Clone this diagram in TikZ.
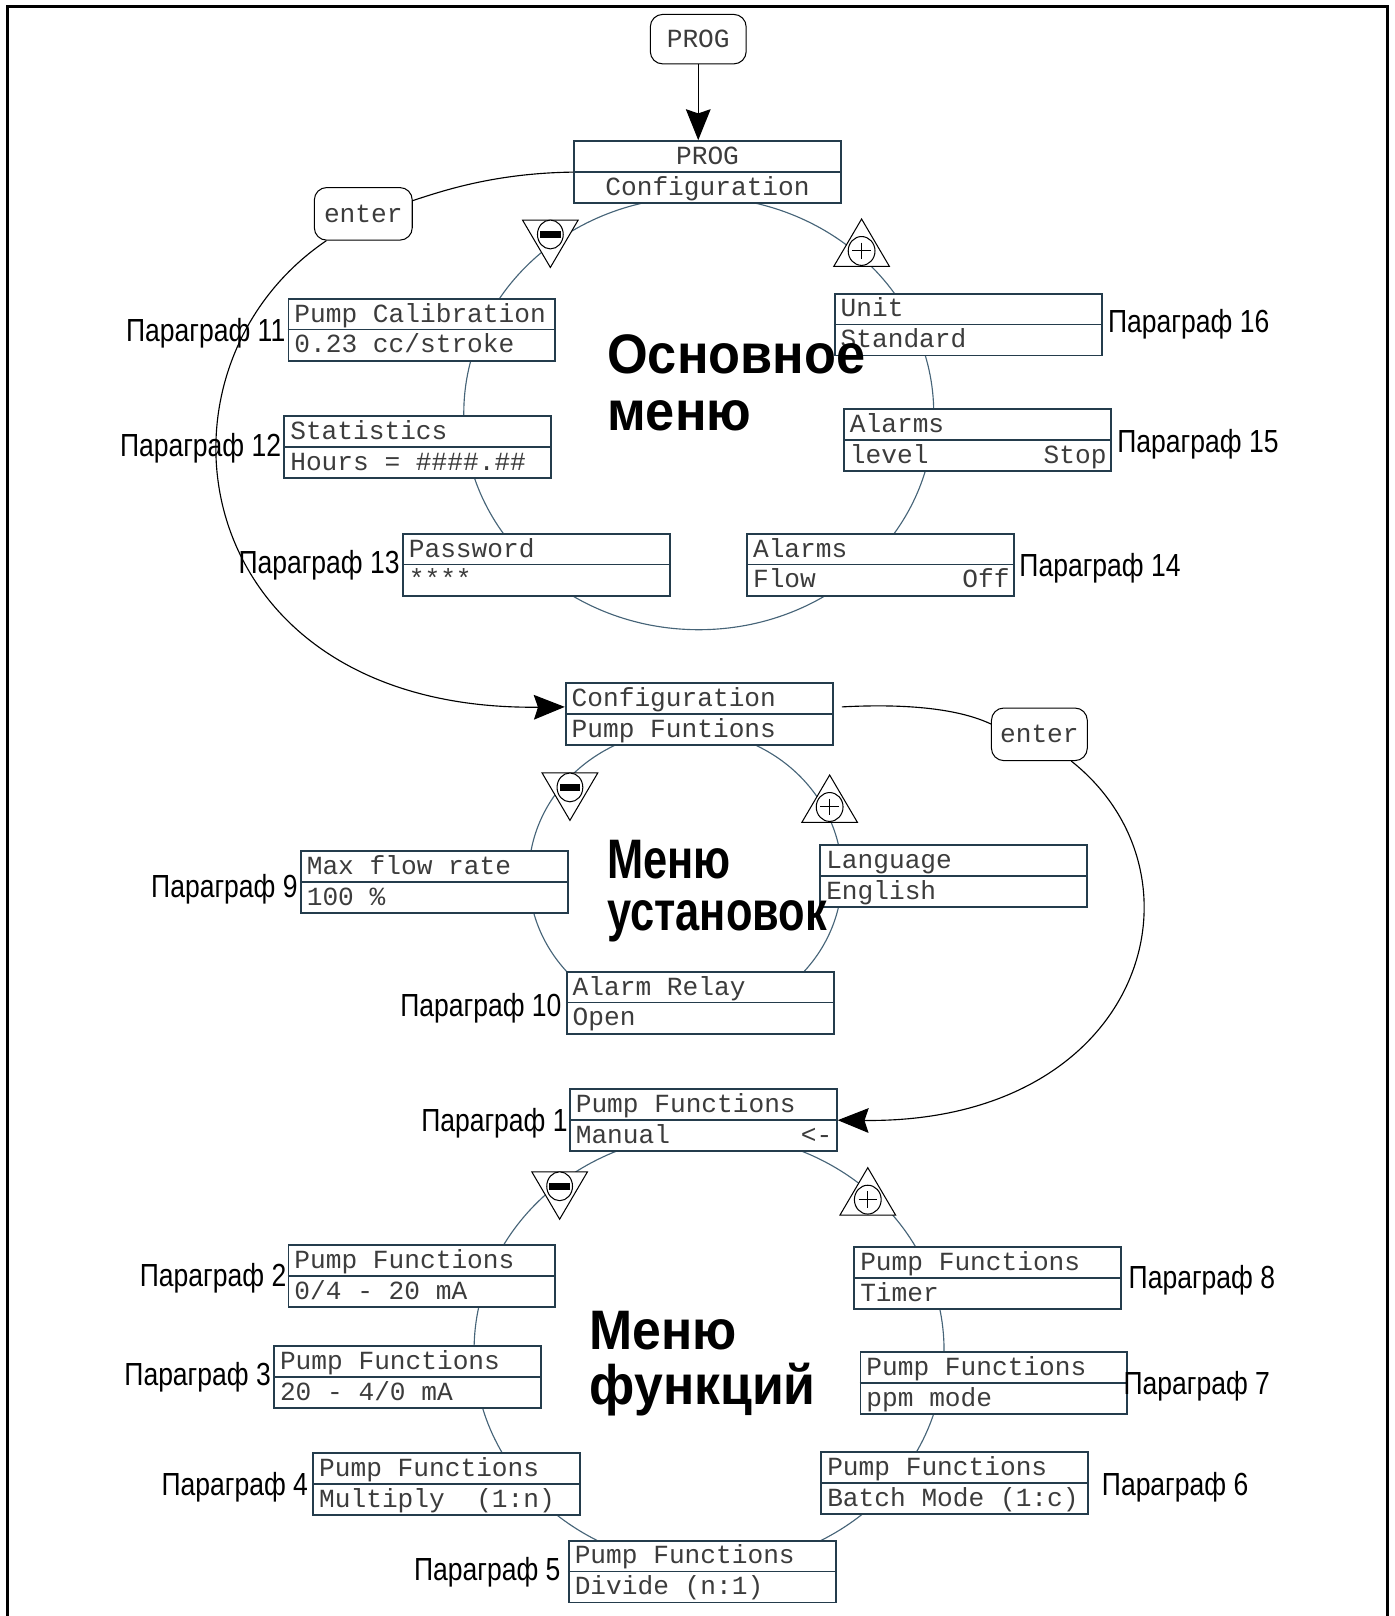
\documentclass[tikz,border=0pt]{standalone}
\usepackage{fontspec}
\usepackage{graphicx}
\setmainfont{Liberation Sans}
\setmonofont{Liberation Mono}
\newfontfamily\lblfont[FakeStretch=0.83]{Liberation Sans}
\usetikzlibrary{arrows.meta,calc}
\definecolor{boxcol}{RGB}{36,60,76}
\definecolor{loopcol}{RGB}{70,100,120}
\definecolor{txtcol}{RGB}{60,60,60}
\tikzset{
  pb/.style={draw=boxcol, line width=1.8pt, fill=white, minimum width=259pt, minimum height=60pt, inner sep=0pt, anchor=north west},
  pbdiv/.style={draw=boxcol, line width=1.5pt},
  tx/.style={inner sep=0pt, text=txtcol, font=\ttfamily\fontsize{25.4}{28}\selectfont},
  btn/.style={draw=black, line width=1pt, rounded corners=12pt, fill=white, inner sep=0pt, text=txtcol, font=\ttfamily\fontsize{25.4}{28}\selectfont},
  lbl/.style={inner sep=0pt, font=\lblfont\fontsize{31}{34}\selectfont},
  ttl/.style={inner sep=0pt, anchor=base west, font=\bfseries\fontsize{54}{60}\selectfont},
  loopline/.style={draw=loopcol, line width=1.1pt},
  conn/.style={draw=black, line width=1.1pt},
  bigarrow/.style={-{Stealth[length=30pt,width=24pt,inset=4pt]}},
  sym/.style={draw=black, line width=1pt, fill=white},
}
\newcommand\mbx[5]{%
  \node[pb] (#1) at (#2,#3) {};
  \draw[pbdiv] (#1.west) -- (#1.east);
  \node[tx, anchor=base west] (#1t) at ($(#1.north west)+(6.5,23.5)$) {#4};
  \node[tx, anchor=base west] (#1b) at ($(#1.north west)+(6.5,53.5)$) {#5};
}
\newcommand\mbxr[2]{%
  \node[tx, anchor=base east] (#1r) at ($(#1.north east)+(-5,53.5)$) {#2};
}
\newcommand\minussym[2]{%
  \draw[sym] (#1-27,#2) -- (#1+27,#2) -- (#1,#2+46) -- cycle;
  \draw[sym] (#1,#2+14) ellipse [x radius=12.5, y radius=14];
  \fill (#1-10,#2+10.5) rectangle (#1+10,#2+17.5);
}
\newcommand\plussym[2]{%
  \draw[sym] (#1,#2) -- (#1+27,#2+46) -- (#1-27,#2+46) -- cycle;
  \draw[sym] (#1,#2+31) ellipse [x radius=13, y radius=14];
  \draw[line width=1pt] (#1-9,#2+31) -- (#1+9,#2+31) (#1,#2+23) -- (#1,#2+39);
}
\begin{document}
\begin{tikzpicture}[x=1pt,y=-1pt]
\useasboundingbox (0,0) rectangle (1353,1568);
% frame
\draw[line width=2.8pt] (7,1568) -- (7,6) -- (1346,6) -- (1346,1568);

% loops
\draw[loopline] (678,401) ellipse [x radius=228, y radius=210];
\draw[loopline] (665,850) ellipse [x radius=152, y radius=142];
\draw[loopline] (688,1310) ellipse [x radius=228, y radius=210];

% +/- symbols
\minussym{534}{213.5}
\plussym{836}{212.5}
\minussym{553}{750}
\plussym{805}{752}
\minussym{543}{1137}
\plussym{842}{1133}

% buttons
\node[btn, minimum width=93pt, minimum height=48pt] (prog) at (677.5,38) {PROG};
\node[btn, minimum width=95pt, minimum height=51pt] (ent1) at (352.5,207.5) {enter};
\node[btn, minimum width=93pt, minimum height=51pt] (ent2) at (1008.5,712.5) {enter};

% top menu
\node[pb, line width=2pt] (cfg) at (556,136) {};
\draw[pbdiv] (cfg.west) -- (cfg.east);
\node[tx, anchor=base] (cfgt) at ($(cfg.north)+(0,23.5)$) {PROG};
\node[tx, anchor=base] (cfgb) at ($(cfg.north)+(0,53.5)$) {Configuration};
\mbx{cal}{279}{289}{Pump Calibration}{0.23 cc/stroke}
\mbx{stat}{275}{403}{Statistics}{Hours = \#\#\#\#.\#\#}
\mbx{pwd}{390}{517}{Password}{****}
\mbx{unit}{809}{284}{Unit}{Standard}
\mbx{alv}{818}{396}{Alarms}{level}
\mbxr{alv}{Stop}
\mbx{afl}{724}{517}{Alarms}{Flow}
\mbxr{afl}{Off}

% settings menu
\mbx{pcfg}{548}{662}{Configuration}{Pump Funtions}
\mbx{maxf}{291}{825}{Max flow rate}{100~\%}
\mbx{lang}{795}{819}{Language}{English}
\mbx{relay}{549}{942}{Alarm Relay}{Open}

% functions menu
\mbx{man}{552}{1056}{Pump Functions}{Manual}
\mbxr{man}{<-}
\mbx{fa}{279}{1207}{Pump Functions}{0/4 - 20 mA}
\mbx{fb}{265}{1305}{Pump Functions}{20 - 4/0 mA}
\mbx{fc}{303}{1409}{Pump Functions}{Multiply~~(1:n)}
\mbx{fd}{551}{1494}{Pump Functions}{Divide (n:1)}
\mbx{fe}{796}{1408}{Pump Functions}{Batch Mode (1:c)}
\mbx{ff}{834}{1311}{Pump Functions}{ppm mode}
\mbx{fg}{828}{1209}{Pump Functions}{Timer}

% connectors
\draw[conn, bigarrow] (prog.south) -- (prog.south |- cfg.north);
\draw[conn] (cfg.west) .. controls (480,168) and (430,185) .. (ent1.15);
\draw[conn, bigarrow] (ent1.216) .. controls (130,360) and (180,690) .. ([yshift=7pt]pcfg.west);
\draw[conn] ([xshift=8pt,yshift=7pt]pcfg.east) .. controls (890,682) and (935,690) .. ([yshift=10pt]ent2.west);
\draw[conn, bigarrow] ([xshift=31pt]ent2.south) .. controls (1180,850) and (1110,1090) .. (man.east);

% labels
\node[lbl, anchor=base east] (p11) at (277,331) {Параграф 11};
\node[lbl, anchor=base east] (p12) at (273,443) {Параграф 12};
\node[lbl, anchor=base east] (p13) at (388,556) {Параграф 13};
\node[lbl, anchor=base west] (p16) at (1075,323) {Параграф 16};
\node[lbl, anchor=base west] (p15) at (1084,439) {Параграф 15};
\node[lbl, anchor=base west] (p14) at (989,559) {Параграф 14};
\node[lbl, anchor=base east] (p9) at (289,871) {Параграф 9};
\node[lbl, anchor=base east] (p10) at (545,986) {Параграф 10};
\node[lbl, anchor=base east] (p1) at (551,1098) {Параграф 1};
\node[lbl, anchor=base east] (p2) at (278,1248) {Параграф 2};
\node[lbl, anchor=base east] (p3) at (263,1344) {Параграф 3};
\node[lbl, anchor=base east] (p4) at (299,1451) {Параграф 4};
\node[lbl, anchor=base east] (p5) at (544,1534) {Параграф 5};
\node[lbl, anchor=base west] (p6) at (1069,1451) {Параграф 6};
\node[lbl, anchor=base west] (p7) at (1090,1353) {Параграф 7};
\node[lbl, anchor=base west] (p8) at (1095,1250) {Параграф 8};

% titles
\node[ttl] (t1a) at (589,362) {\scalebox{0.94}[1]{Основное}};
\node[ttl] (t1b) at (589,418) {\scalebox{0.94}[1]{меню}};
\node[ttl] (t2a) at (589,852) {\scalebox{0.78}[1]{Меню}};
\node[ttl] (t2b) at (589,903) {\scalebox{0.78}[1]{установок}};
\node[ttl] (t3a) at (572,1309) {\scalebox{0.93}[1]{Меню}};
\node[ttl] (t3b) at (572,1363) {\scalebox{0.93}[1]{функций}};
\end{tikzpicture}
\end{document}
